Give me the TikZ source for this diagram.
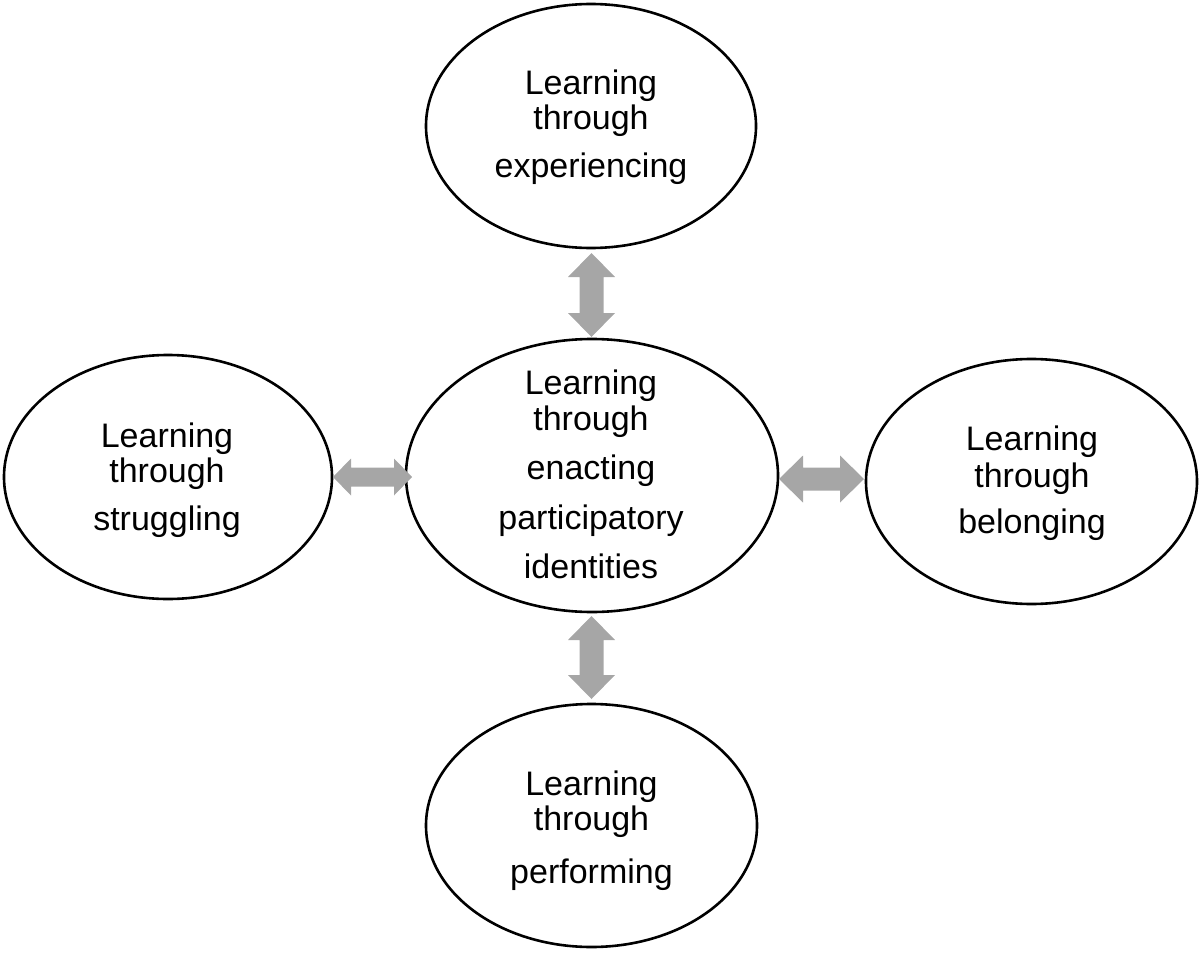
\documentclass[tikz,border=0pt]{standalone}
\usepackage{fontspec}
\setmainfont{Liberation Sans}
\usetikzlibrary{shapes.geometric,calc}
\definecolor{arrowgray}{RGB}{166,166,166}
\tikzset{
  bubble/.style={ellipse, draw=black, line width=2.6pt, inner sep=0pt, outer sep=0pt, fill=white},
  txt/.style={anchor=base, inner sep=0pt, font=\fontsize{34}{40}\selectfont},
  arrowfill/.style={fill=arrowgray, draw=none}
}
% vertical double block arrow between two named coordinates
\newcommand\mkVarrow[5]{%
  \fill[arrowfill] let \p1=(#1), \p2=(#2) in
    (\p1) -- (\x1+#3,\y1-#5) -- (\x1+#4,\y1-#5) -- (\x1+#4,\y2+#5) -- (\x1+#3,\y2+#5)
    -- (\p2) -- (\x1-#3,\y2+#5) -- (\x1-#4,\y2+#5) -- (\x1-#4,\y1-#5) -- (\x1-#3,\y1-#5) -- cycle;}
% horizontal double block arrow between two named coordinates
\newcommand\mkHarrow[5]{%
  \fill[arrowfill] let \p1=(#1), \p2=(#2) in
    (\p1) -- (\x1+#5,\y1+#3) -- (\x1+#5,\y1+#4) -- (\x2-#5,\y1+#4) -- (\x2-#5,\y1+#3)
    -- (\p2) -- (\x2-#5,\y1-#3) -- (\x2-#5,\y1-#4) -- (\x1+#5,\y1-#4) -- (\x1+#5,\y1-#3) -- cycle;}
\begin{document}
\begin{tikzpicture}[x=1pt,y=-1pt]
\useasboundingbox (0,0) rectangle (1200,953);

% ellipses
\node[bubble, minimum width=330pt, minimum height=244pt] (top) at (591,126) {};
\node[bubble, minimum width=372pt, minimum height=273pt] (mid) at (592,475.5) {};
\node[bubble, minimum width=328pt, minimum height=244pt] (lft) at (168,477) {};
\node[bubble, minimum width=331pt, minimum height=245pt] (rgt) at (1031.5,481.5) {};
\node[bubble, minimum width=331pt, minimum height=243pt] (bot) at (591.5,825.5) {};

% arrow end points
\coordinate (a1s) at (591.5,253);
\coordinate (a1e) at (591.5,337);
\coordinate (a2s) at (591.5,616);
\coordinate (a2e) at (591.5,699);
\coordinate (a3s) at (333,477);
\coordinate (a3e) at (412,477);
\coordinate (a4s) at (779,479);
\coordinate (a4e) at (864,479);

\mkVarrow{a1s}{a1e}{23.5pt}{12pt}{24pt}
\mkVarrow{a2s}{a2e}{23.5pt}{12pt}{24pt}
\mkHarrow{a3s}{a3e}{18.5pt}{9.5pt}{18pt}
\mkHarrow{a4s}{a4e}{23.5pt}{11.5pt}{24pt}

% texts
\node[txt] (t1a) at (591,94) {Learning};
\node[txt] (t1b) at (591,129) {through};
\node[txt] (t1c) at (591,177) {experiencing};

\node[txt] (t2a) at (591,394) {Learning};
\node[txt] (t2b) at (591,430) {through};
\node[txt] (t2c) at (591,479) {enacting};
\node[txt] (t2d) at (591,529) {participatory};
\node[txt] (t2e) at (591,578) {identities};

\node[txt] (t3a) at (167,447) {Learning};
\node[txt] (t3b) at (167,482) {through};
\node[txt] (t3c) at (167,530) {struggling};

\node[txt] (t4a) at (1032,450) {Learning};
\node[txt] (t4b) at (1032,487) {through};
\node[txt] (t4c) at (1032,533) {belonging};

\node[txt] (t5a) at (591.5,795) {Learning};
\node[txt] (t5b) at (591.5,830) {through};
\node[txt] (t5c) at (591.5,883) {performing};
\end{tikzpicture}
\end{document}
